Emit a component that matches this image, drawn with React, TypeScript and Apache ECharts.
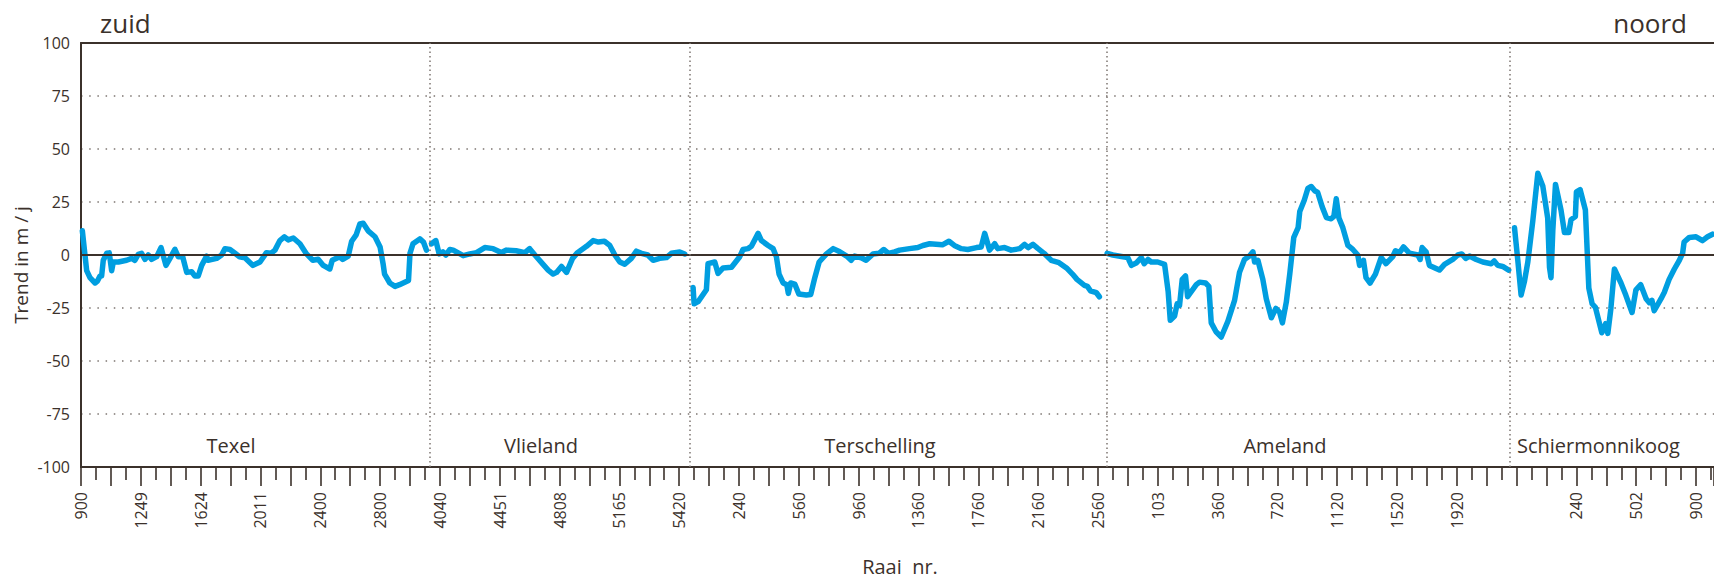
import React, { useEffect, useRef } from 'react';
import * as echarts from 'echarts';

// Tick labels (raai numbers), one every 4 tick units along the index axis
const raaiLabels = ['900', '1249', '1624', '2011', '2400', '2800', '4040', '4451', '4808', '5165', '5420', '240', '560', '960', '1360', '1760', '2160', '2560', '103', '360', '720', '1120', '1520', '1920', '', '240', '502', '900'];
const yTicks = [-100, -75, -50, -25, 0, 25, 50, 75, 100];
const islandBounds = [23.33, 40.7, 68.56, 95.52];
const islandNames = ['Texel', 'Vlieland', 'Terschelling', 'Ameland', 'Schiermonnikoog'];

// [raai index, trend m/j]
const texel: [number, number][] = [[0.09, 11.4], [0.38, -7.4], [0.6, -10.7], [0.94, -13.2], [1.1, -12.3], [1.27, -9.9], [1.38, -9.9], [1.49, -2.5], [1.72, 0.8], [1.89, 1], [2.05, -7.4], [2.16, -3.3], [2.5, -3.3], [3.05, -2.5], [3.39, -1.6], [3.6, -2.5], [3.83, 0.3], [4.05, 0.8], [4.28, -2.1], [4.5, 0], [4.72, -2.1], [5.06, -0.8], [5.35, 3.5], [5.68, -4.9], [5.95, -1.6], [6.28, 2.7], [6.5, -0.8], [6.8, -0.8], [7.07, -8.2], [7.4, -7.9], [7.62, -9.9], [7.84, -9.9], [8.07, -4.9], [8.4, -0.5], [8.5, -2.5], [9.07, -1.6], [9.4, 0], [9.63, 3.0], [9.96, 2.6], [10.3, 0.8], [10.6, -0.8], [10.96, -1.3], [11.5, -4.9], [11.97, -3.3], [12.4, 1.1], [12.7, 0.8], [12.97, 2.3], [13.3, 6.8], [13.6, 8.6], [13.86, 7.1], [14.2, 8.0], [14.64, 5.3], [15.08, 0.5], [15.5, -2.5], [15.86, -2.0], [16.2, -4.9], [16.64, -6.6], [16.8, -2.5], [17.3, -0.8], [17.5, -2.1], [17.87, -0.5], [18.1, 6.5], [18.4, 9.5], [18.65, 14.7], [18.87, 15], [19.2, 11.4], [19.66, 8.6], [20, 3.8], [20.2, -4.1], [20.3, -9], [20.65, -13.2], [21, -14.8], [21.3, -14], [21.9, -12], [22, 0.8], [22.2, 5.3], [22.66, 7.6], [22.9, 6.1], [23.1, 2.3]];

const vlieland: [number, number][] = [[23.44, 5.3], [23.73, 6.8], [23.95, 0.5], [24.2, 1.5], [24.4, 0], [24.67, 2.6], [24.89, 2.3], [25.56, -0.3], [26, 0.5], [26.45, 1.1], [27.0, 3.5], [27.56, 3.0], [28.1, 1.2], [28.45, 2.3], [29.1, 2.0], [29.68, 1.1], [30.0, 3.0], [30.35, 0], [30.9, -4.4], [31.24, -7.1], [31.57, -9.0], [31.8, -8.2], [32.13, -5.4], [32.47, -8.2], [32.87, -1.6], [33.2, 1.1], [33.8, 4.1], [34.25, 6.8], [34.6, 6.1], [35.0, 6.5], [35.36, 4.5], [35.7, 0], [36.03, -3.3], [36.36, -4.4], [36.8, -1.6], [37.14, 1.8], [37.48, 0.8], [37.9, 0], [38.26, -2.5], [38.7, -1.6], [39.15, -1.2], [39.48, 0.8], [40.04, 1.4], [40.37, 0.5]];

const terschelling: [number, number][] = [[40.93, -15.3], [41.0, -23], [41.27, -22], [41.82, -16.4], [41.93, -4.1], [42.38, -3.3], [42.6, -8.7], [42.94, -6.1], [43.5, -5.8], [44.05, -0.8], [44.27, 2.6], [44.6, 3.0], [44.83, 4.1], [45.28, 10.2], [45.5, 6.8], [45.95, 4.5], [46.28, 3.0], [46.5, -0.8], [46.68, -9.0], [46.95, -13.2], [47.2, -14], [47.3, -18.1], [47.46, -13.2], [47.73, -13.7], [48.0, -18.4], [48.5, -18.9], [48.8, -18.6], [49.07, -10.7], [49.36, -3.3], [49.85, 0.5], [50.3, 3.0], [50.74, 1.5], [51.2, -0.5], [51.5, -2.5], [51.74, -0.5], [52.18, -1.3], [52.5, -2.5], [52.96, 0.5], [53.36, 0.8], [53.68, 2.6], [54.0, 0.8], [54.4, 1.5], [54.74, 2.3], [55.4, 3.0], [55.96, 3.5], [56.3, 4.5], [56.75, 5.3], [57.6, 4.8], [58.04, 6.5], [58.4, 4.5], [58.87, 3.0], [59.3, 2.6], [59.88, 3.5], [60.2, 3.8], [60.43, 10.2], [60.76, 2.3], [61.1, 5.3], [61.3, 3.0], [61.76, 3.5], [62.2, 2.3], [62.77, 3.0], [63.1, 5.0], [63.33, 3.5], [63.66, 5.0], [64.0, 3.0], [64.4, 0.8], [64.88, -2.5], [65.4, -3.6], [65.9, -6.1], [66.3, -9.0], [66.6, -11.5], [67.1, -14.3], [67.3, -14.8], [67.5, -16.9], [67.9, -17.8], [68.1, -19.7]];

const ameland: [number, number][] = [[68.62, 0.8], [69.0, 0], [69.67, -0.8], [70.0, -1.2], [70.24, -4.9], [70.56, -3.8], [70.9, -1.2], [71.1, -4.1], [71.35, -2.1], [71.57, -3.3], [72.0, -3.3], [72.46, -4.4], [72.7, -17.3], [72.84, -30.8], [73.13, -28.8], [73.3, -23], [73.46, -23.8], [73.64, -11.5], [73.86, -9.9], [74.0, -19.7], [74.58, -14], [74.8, -12.8], [75.2, -13.2], [75.42, -14.8], [75.58, -32], [75.9, -36.2], [76.25, -38.7], [76.69, -31.3], [77.14, -21.4], [77.47, -8.2], [77.8, -2.1], [78.14, -0.5], [78.37, 1.5], [78.48, -3.3], [78.7, -2.5], [79.03, -11.5], [79.26, -20.6], [79.6, -29.6], [79.9, -25.2], [80.16, -27.1], [80.34, -32], [80.6, -22.2], [80.83, -9.0], [81.1, 8.3], [81.39, 12.9], [81.5, 20.5], [81.8, 25.8], [82.04, 31.4], [82.27, 32.3], [82.5, 30.3], [82.7, 29.5], [83.0, 22.7], [83.28, 17.7], [83.6, 17.1], [83.78, 18.2], [83.94, 26.5], [84.12, 17.4], [84.38, 12.9], [84.72, 4.5], [85.05, 2.6], [85.38, 0], [85.5, -4.9], [85.76, -2.5], [85.93, -10.7], [86.2, -13.2], [86.56, -9.0], [86.94, -1.2], [87.27, -4.1], [87.72, -0.8], [87.9, 2.0], [88.17, 1.1], [88.44, 3.8], [88.84, 0.8], [89.4, 0], [89.55, -2.1], [89.68, 3.5], [89.95, 1.5], [90.17, -4.9], [90.84, -7.1], [91.18, -4.4], [91.73, -2.1], [92.07, 0], [92.33, 0.5], [92.6, -1.6], [92.85, -0.5], [93.3, -2.1], [93.74, -3.3], [94.3, -4.1], [94.5, -2.8], [94.74, -4.9], [95.07, -5.4], [95.47, -7.1]];

const schiermonnikoog: [number, number][] = [[95.86, 12.9], [96.08, -2.5], [96.3, -18.9], [96.53, -12.3], [96.75, -3.3], [97.08, 15.9], [97.42, 38.6], [97.75, 32.6], [98.08, 17.4], [98.2, -5.8], [98.3, -10.7], [98.42, 11.4], [98.6, 33.3], [98.97, 21.2], [99.2, 10.6], [99.49, 10.6], [99.64, 16.7], [99.93, 18.2], [100.0, 29.8], [100.25, 30.8], [100.6, 21.2], [100.83, -15.6], [101.05, -23], [101.27, -24.7], [101.7, -36.7], [101.95, -32.4], [102.1, -37], [102.3, -25.5], [102.54, -6.6], [102.98, -13.2], [103.3, -18.9], [103.72, -27.1], [103.98, -16.4], [104.3, -14], [104.66, -20.6], [104.88, -22.5], [105.05, -21.4], [105.2, -26.3], [105.66, -20.6], [105.88, -17.6], [106.2, -11.5], [106.55, -6.6], [106.88, -2.5], [107.1, 0.8], [107.2, 6.1], [107.55, 8.3], [108.0, 8.6], [108.43, 6.8], [108.77, 8.6], [109.1, 9.8]];

const islands = [texel, vlieland, terschelling, ameland, schiermonnikoog];

const INK = '#3b312b';
const DOT = '#7d7671';
const BLUE = '#009ee0';
const FONT = '"Open Sans", "Noto Sans", sans-serif';
const X_MAX = 109.2;

export default function App() {
  const ref = useRef<HTMLDivElement>(null);
  useEffect(() => {
    const chart = echarts.init(ref.current!, null, { renderer: 'svg' });
    const labelX = [231, 541, 880, 1285, 1517];
    const option: any = {
      animation: false,
      grid: { left: 81, right: 0, top: 43, bottom: 112, containLabel: false },
      xAxis: [
        {
          type: 'value',
          min: 0,
          max: X_MAX,
          interval: 2,
          axisLine: { show: true, onZero: false, lineStyle: { color: INK, width: 2 } },
          axisTick: { show: true, length: 19, lineStyle: { color: INK, width: 1.6 } },
          minorTick: { show: true, splitNumber: 2, length: 13, lineStyle: { color: INK, width: 1.6 } },
          splitLine: { show: false },
          axisLabel: {
            show: true,
            rotate: 90,
            margin: 25,
            fontSize: 16,
            fontFamily: FONT,
            color: INK,
            showMaxLabel: false,
            formatter: (v: number) => {
              if (Math.abs(v % 4) > 1e-6) return '';
              const i = Math.round(v / 4);
              return raaiLabels[i] ?? '';
            },
          },
        },
        {
          type: 'value',
          position: 'top',
          min: 0,
          max: X_MAX,
          axisLine: { show: true, onZero: false, lineStyle: { color: INK, width: 2 } },
          axisTick: { show: false },
          axisLabel: { show: false },
          splitLine: { show: false },
        },
      ],
      yAxis: {
        type: 'value',
        min: yTicks[0],
        max: yTicks[yTicks.length - 1],
        interval: 25,
        axisLine: { show: true, onZero: false, lineStyle: { color: INK, width: 2 } },
        axisTick: { show: false },
        axisLabel: { margin: 11, fontSize: 16, fontFamily: FONT, color: INK },
        splitLine: { show: true, lineStyle: { color: DOT, width: 1.5, type: [1.5, 6.7] } },
      },
      series: [
        {
          type: 'line',
          data: [],
          z: 1,
          silent: true,
          markLine: {
            silent: true,
            symbol: ['none', 'none'],
            label: { show: false },
            data: [
              { yAxis: 0, lineStyle: { color: INK, width: 1.8, type: 'solid' } },
              ...islandBounds.map((b) => ({ xAxis: b, lineStyle: { color: DOT, width: 1.5, type: [1.5, 3] } })),
            ],
          },
        },
        ...islands.map((d, i) => ({
          type: 'line',
          name: islandNames[i],
          data: d,
          z: 3,
          showSymbol: false,
          symbol: 'none',
          silent: true,
          lineStyle: { color: BLUE, width: 5.5, cap: 'round', join: 'round' },
        })),
      ],
      graphic: [
        { type: 'text', x: 100, y: 23, style: { text: 'zuid', fontSize: 26, fontFamily: FONT, fill: INK, textAlign: 'left', textVerticalAlign: 'middle' } },
        { type: 'text', x: 1687, y: 23, style: { text: 'noord', fontSize: 26, fontFamily: FONT, fill: INK, textAlign: 'right', textVerticalAlign: 'middle' } },
        ...islandNames.map((n, i) => ({
          type: 'text',
          x: labelX[i],
          y: 445,
          style: { text: n, fontSize: 20, fontFamily: FONT, fill: INK, textAlign: i === 4 ? 'left' : 'center', textVerticalAlign: 'middle' },
        })),
        { type: 'text', x: 900, y: 566, style: { text: 'Raai  nr.', fontSize: 20, fontFamily: FONT, fill: INK, textAlign: 'center', textVerticalAlign: 'middle' } },
        { type: 'text', x: 21, y: 265, rotation: Math.PI / 2, style: { text: 'Trend in m / j', fontSize: 19, fontFamily: FONT, fill: INK, textAlign: 'center', textVerticalAlign: 'middle' } },
      ],
    };
    chart.setOption(option);
    return () => chart.dispose();
  }, []);
  return <div ref={ref} style={{ position: 'absolute', left: 0, top: 0, width: 1714, height: 579 }} />;
}
